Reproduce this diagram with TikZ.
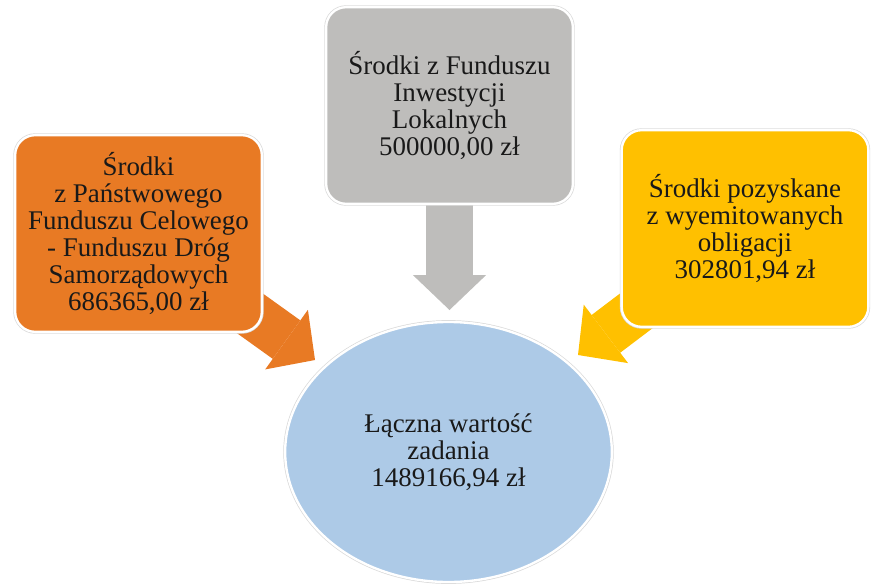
\documentclass[tikz,border=0pt]{standalone}
\usepackage{fontspec}
\setmainfont{Liberation Serif}
\usetikzlibrary{arrows.meta,backgrounds,shapes.geometric}

\definecolor{orangebox}{HTML}{E87A24}
\definecolor{graybox}{HTML}{BEBDBB}
\definecolor{yellowbox}{HTML}{FFC000}
\definecolor{bluesum}{HTML}{ADCAE7}

\tikzset{
	source/.style={rounded corners=0.6cm, draw=white, line width=2pt,
		preaction={draw=black!15, line width=3.2pt},
		minimum width=7.4cm, minimum height=5.9cm, inner sep=0pt,
		align=center, text=black!90, font=\fontsize{23}{23.2}\selectfont},
	flow/.style={line width=1.42cm, -{Triangle[line width=0pt, width=2.2cm, length=1.05cm]}}
}

\begin{document}
\begin{tikzpicture}[x=0.03cm, y=-0.03cm]
				\useasboundingbox (0,0) rectangle (871,583);
				\node[source, fill=graybox] (fil) at (449.5,105.5)
					{Środki z Funduszu\\Inwestycji\\Lokalnych\\500000,00 zł};
				\node[source, fill=orangebox] (pfc) at (138.5,233.5)
					{Środki\\z Państwowego\\Funduszu Celowego\\- Funduszu Dróg\\Samorządowych\\686365,00 zł};
				\node[source, fill=yellowbox] (obl) at (745,228.5)
					{Środki pozyskane\\z wyemitowanych\\obligacji\\302801,94 zł};
				\node[source, ellipse, fill=bluesum, minimum width=9.8cm, minimum height=7.8cm] (suma) at (448.5,452)
					{Łączna wartość\\zadania\\1489166,94 zł};
				% arrow tips just above the ellipse
				\coordinate (tipG) at (449.5,310);
				\coordinate (tipO) at (315,360);
				\coordinate (tipY) at (578,355);
				\begin{pgfonlayer}{background}
					\draw[flow, graybox] (fil.center) -- (tipG);
					\draw[flow, orangebox] (pfc.center) -- (tipO);
					\draw[flow, yellowbox] (obl.center) -- (tipY);
				\end{pgfonlayer}
		\end{tikzpicture}
\end{document}
